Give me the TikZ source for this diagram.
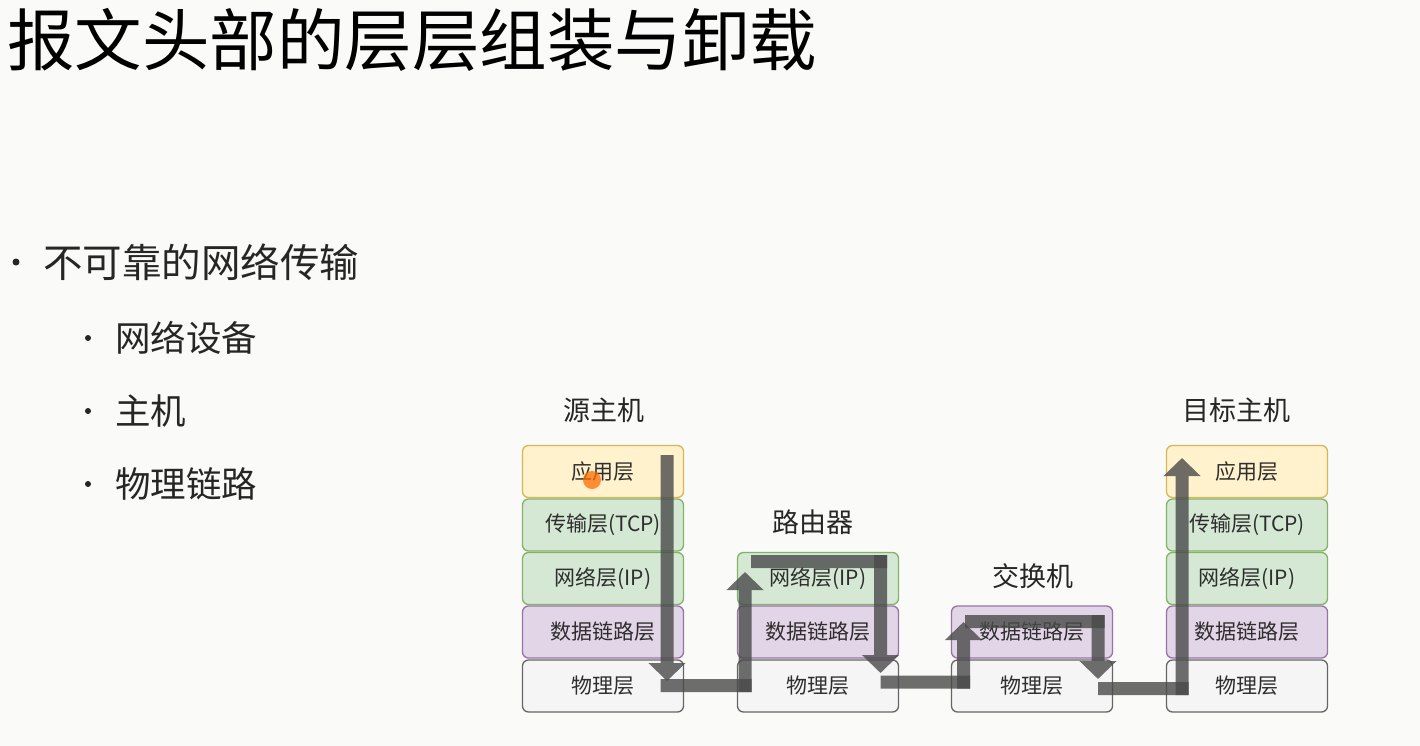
\documentclass[tikz,border=0pt]{standalone}
\usepackage{fontspec}
\setmainfont{Noto Sans CJK SC}
\usetikzlibrary{arrows.meta}
\definecolor{bg}{HTML}{FAFAF8}
\definecolor{appfill}{HTML}{FFF2CC}\definecolor{appline}{HTML}{D6B656}
\definecolor{grnfill}{HTML}{D5E8D4}\definecolor{grnline}{HTML}{82B366}
\definecolor{purfill}{HTML}{E1D5E7}\definecolor{purline}{HTML}{9673A6}
\definecolor{phyfill}{HTML}{F5F5F5}\definecolor{phyline}{HTML}{666666}
\definecolor{flowcol}{HTML}{4A4A4A}
\definecolor{txt}{HTML}{2E2E2E}
\tikzset{
  layer/.style={draw, line width=1.3pt, rounded corners=6pt, minimum width=161pt, minimum height=52pt, inner sep=0pt, text=txt, font=\fontsize{21}{21}\selectfont},
  app/.style={layer, fill=appfill, draw=appline},
  grn/.style={layer, fill=grnfill, draw=grnline},
  pur/.style={layer, fill=purfill, draw=purline},
  phy/.style={layer, fill=phyfill, draw=phyline},
  devlabel/.style={inner sep=0pt, text=black!85, font=\fontsize{27}{27}\selectfont},
  flowarrow/.style={line width=13pt, draw=flowcol, -{Triangle[width=36pt,length=18pt]}},
  flowbar/.style={line width=13pt, draw=flowcol},
  bulletdot/.style={circle, fill=black!85, inner sep=0pt, minimum size=6pt},
  bullettext/.style={anchor=west, inner sep=0pt, text=black!85}
}
\begin{document}
\begin{tikzpicture}[x=1pt,y=-1pt]
\fill[bg] (0,0) rectangle (1420,746);
\useasboundingbox (0,0) rectangle (1420,746);

% title
\node[anchor=west, inner sep=0pt, font=\fontsize{67.5}{67.5}\selectfont] (title) at (7,40) {报文头部的层层组装与卸载};

% bullets
\node[bulletdot, minimum size=7pt] (d1) at (16,262) {};
\node[bullettext, font=\fontsize{39.5}{39.5}\selectfont] (t1) at (43,262) {不可靠的网络传输};
\node[bulletdot] (d2) at (88,338) {};
\node[bullettext, font=\fontsize{35.5}{35.5}\selectfont] (t2) at (115,338) {网络设备};
\node[bulletdot] (d3) at (88,411) {};
\node[bullettext, font=\fontsize{35.5}{35.5}\selectfont] (t3) at (115,411) {主机};
\node[bulletdot] (d4) at (88,484) {};
\node[bullettext, font=\fontsize{35.5}{35.5}\selectfont] (t4) at (115,484) {物理链路};

% source host
\node[devlabel] (srclbl) at (604,410) {源主机};
\node[app] (s1) at (603,471.5) {应用层};
\node[grn] (s2) at (603,525) {传输层(TCP)};
\node[grn] (s3) at (603,578.5) {网络层(IP)};
\node[pur] (s4) at (603,632) {数据链路层};
\node[phy] (s5) at (603,686) {物理层};

% router
\node[devlabel] (rlbl) at (813,522) {路由器};
\node[grn] (r3) at (818,578.5) {网络层(IP)};
\node[pur] (r4) at (818,632) {数据链路层};
\node[phy] (r5) at (818,686) {物理层};

% switch
\node[devlabel] (wlbl) at (1033,576) {交换机};
\node[pur] (w4) at (1032,632) {数据链路层};
\node[phy] (w5) at (1032,686) {物理层};

% destination host
\node[devlabel] (dstlbl) at (1236,410) {目标主机};
\node[app] (t1a) at (1247,471.5) {应用层};
\node[grn] (t2a) at (1247,525) {传输层(TCP)};
\node[grn] (t3a) at (1247,578.5) {网络层(IP)};
\node[pur] (t4a) at (1247,632) {数据链路层};
\node[phy] (t5a) at (1247,686) {物理层};

% cursor highlight
\fill[orange!85!red, opacity=0.75] (592,480) circle (9pt);

% flow coordinates
\coordinate (a0) at (667,455);
\coordinate (a1) at (667,681);
\coordinate (b0) at (660.5,685.5);
\coordinate (b1) at (751.5,685.5);
\coordinate (c0) at (745,692);
\coordinate (c1) at (745,572);
\coordinate (e0) at (751,561.5);
\coordinate (e1) at (887,561.5);
\coordinate (f0) at (880.5,555);
\coordinate (f1) at (880.5,673);
\coordinate (g0) at (880.5,682);
\coordinate (g1) at (970,682);
\coordinate (h0) at (963.5,688.5);
\coordinate (h1) at (963.5,622);
\coordinate (i0) at (965,621.5);
\coordinate (i1) at (1104.5,621.5);
\coordinate (j0) at (1098,615);
\coordinate (j1) at (1098,679);
\coordinate (k0) at (1098,688.5);
\coordinate (k1) at (1188.5,688.5);
\coordinate (l0) at (1182,695);
\coordinate (l1) at (1182,458);

\begin{scope}[transparency group, opacity=0.8]\draw[flowarrow] (a0) -- (a1);\end{scope}
\begin{scope}[transparency group, opacity=0.8]\draw[flowbar] (b0) -- (b1);\end{scope}
\begin{scope}[transparency group, opacity=0.8]\draw[flowarrow] (c0) -- (c1);\end{scope}
\begin{scope}[transparency group, opacity=0.8]\draw[flowbar] (e0) -- (e1);\end{scope}
\begin{scope}[transparency group, opacity=0.8]\draw[flowarrow] (f0) -- (f1);\end{scope}
\begin{scope}[transparency group, opacity=0.8]\draw[flowbar] (g0) -- (g1);\end{scope}
\begin{scope}[transparency group, opacity=0.8]\draw[flowarrow] (h0) -- (h1);\end{scope}
\begin{scope}[transparency group, opacity=0.8]\draw[flowbar] (i0) -- (i1);\end{scope}
\begin{scope}[transparency group, opacity=0.8]\draw[flowarrow] (j0) -- (j1);\end{scope}
\begin{scope}[transparency group, opacity=0.8]\draw[flowbar] (k0) -- (k1);\end{scope}
\begin{scope}[transparency group, opacity=0.8]\draw[flowarrow] (l0) -- (l1);\end{scope}
\end{tikzpicture}
\end{document}
